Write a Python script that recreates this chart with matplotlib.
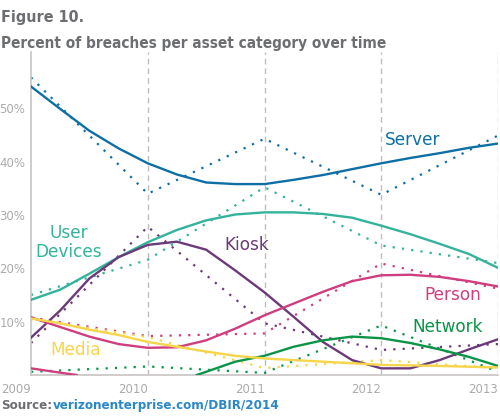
import numpy as np
import matplotlib.pyplot as plt

# yearly values (dotted lines)
years = [2009, 2010, 2011, 2012, 2013]
server_pts = [55.8, 34.0, 44.3, 33.8, 44.9]
user_pts = [15.0, 21.6, 35.2, 24.3, 21.0]
kiosk_pts = [6.0, 27.8, 9.7, 4.7, 5.8]
person_pts = [10.8, 7.3, 7.8, 20.9, 16.2]
network_pts = [0.6, 1.6, 0.4, 9.3, 0.6]
media_pts = [10.5, 7.1, 1.3, 2.8, 1.3]

qyears = [2009, 2009.25, 2009.5, 2009.75, 2010, 2010.25, 2010.5, 2010.75, 2011,
          2011.25, 2011.5, 2011.75, 2012, 2012.25, 2012.5, 2012.75, 2013]
server_fit = [54.1, 49.9, 45.8, 42.5, 39.7, 37.6, 36.1, 35.8, 35.8,
              36.6, 37.5, 38.6, 39.7, 40.7, 41.6, 42.6, 43.4]
user_fit = [14.1, 16.0, 19.0, 22.1, 24.9, 27.2, 29.0, 30.1, 30.5,
            30.5, 30.2, 29.5, 28.0, 26.4, 24.6, 22.7, 20.1]
kiosk_fit = [7.0, 12.1, 18.1, 22.1, 24.4, 25.0, 23.5, 19.6, 15.5,
             10.9, 6.2, 2.8, 1.25, 1.25, 2.8, 4.8, 6.7]
person_fit = [10.8, 9.0, 7.2, 5.8, 5.1, 5.2, 6.5, 8.7, 11.2,
              13.4, 15.6, 17.6, 18.7, 18.8, 18.4, 17.6, 16.6]
media_fit = [10.6, 9.7, 8.5, 7.5, 6.2, 5.3, 4.4, 3.6, 3.1,
             2.8, 2.5, 2.2, 1.9, 1.8, 1.7, 1.55, 1.4]
net_years = [2010.42, 2010.5, 2010.75, 2011, 2011.25, 2011.5, 2011.75,
             2012, 2012.25, 2012.5, 2012.75, 2013]
network_fit = [0.0, 0.6, 2.5, 3.6, 5.3, 6.5, 7.2, 6.9, 6.0, 4.8, 3.4, 1.7]
low_years = [2009, 2009.2, 2009.39]
low_fit = [1.25, 0.6, 0.0]

labels = ['Server', 'User\nDevices', 'Kiosk', 'Person', 'Network', 'Media']
colors = ['#0D6FA3', '#33B39B', '#6B3A7B', '#CF3F7F', '#0B9447', '#F6D54A']
ytick_vals = [10, 20, 30, 40, 50]
ytick_labels = ['10%', '20%', '30%', '40%', '50%']

fig = plt.figure(figsize=(5, 4.19), dpi=100)
ax = fig.add_axes([0.062, 0.105, 0.934, 0.77])

for x in years[1:]:
    ax.axvline(x, color='#BDBDBD', lw=1, ls=(0, (4, 3)), zorder=0)

pts = [server_pts, user_pts, kiosk_pts, person_pts, network_pts, media_pts]
for p, c in zip(pts, colors):
    ax.plot(years, p, color=c, lw=1.6, ls=(0, (1, 3.2)), zorder=2)

ax.plot(qyears, server_fit, color=colors[0], lw=1.7, zorder=3)
ax.plot(qyears, user_fit, color=colors[1], lw=1.7, zorder=3)
ax.plot(qyears, kiosk_fit, color=colors[2], lw=1.7, zorder=3)
ax.plot(qyears, person_fit, color=colors[3], lw=1.7, zorder=3)
ax.plot(net_years, network_fit, color=colors[4], lw=1.7, zorder=3)
ax.plot(qyears, media_fit, color=colors[5], lw=1.7, zorder=3)
ax.plot(low_years, low_fit, color=colors[3], lw=1.7, zorder=3)

ax.set_xlim(2009, 2013)
ax.set_ylim(0, 60.5)
for s in ['top', 'right']:
    ax.spines[s].set_visible(False)
for s in ['left', 'bottom']:
    ax.spines[s].set_color('#C9C4C4')
    ax.spines[s].set_linewidth(1.2)

ax.set_xticks(years)
ax.set_xticklabels([str(y) for y in years], ha='right')
ax.set_yticks(ytick_vals)
ax.set_yticklabels(ytick_labels)
ax.tick_params(length=0, colors='#ABABAB', labelsize=8.5, pad=4)
ax.tick_params(axis='x', pad=6)

# series labels
lab_pos = [(2012.27, 44.1), (2009.32, 24.8), (2010.85, 24.3),
           (2012.61, 15.0), (2012.57, 9.0), (2009.38, 4.6)]
for (x, y), t, c in zip(lab_pos, labels, colors):
    ax.text(x, y, t, color=c, fontsize=12.2, ha='center', va='center',
            linespacing=1.05)

fig.text(0.002, 0.975, 'Figure 10.', color='#6D6E71', fontsize=11.5,
         fontweight='bold', fontstretch='condensed', va='top')
fig.text(0.002, 0.915, 'Percent of breaches per asset category over time',
         color='#6D6E71', fontsize=11, fontweight='bold',
         fontstretch='condensed', va='top')
fig.text(0.002, 0.033, 'Source:', color='#6D6E71', fontsize=9.5,
         fontweight='bold', fontstretch='condensed', va='center')
fig.text(0.106, 0.033, 'verizonenterprise.com/DBIR/2014', color='#2A87C8',
         fontsize=9.5, fontweight='bold', fontstretch='condensed', va='center')

fig.savefig('out.png', dpi=100)
